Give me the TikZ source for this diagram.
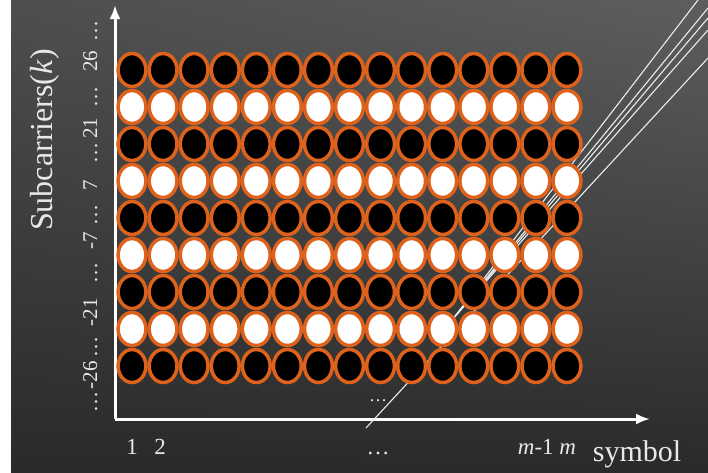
\documentclass[tikz,border=0pt]{standalone}
\usepackage{fontspec}
\setmainfont{Liberation Serif}
\usetikzlibrary{shapes.geometric, arrows.meta, shadings}
\definecolor{slidetopleft}{HTML}{4E4E4E}
\definecolor{slidetopright}{HTML}{5E5E5E}
\definecolor{slidebottom}{HTML}{2A2A2A}
\definecolor{ringorange}{RGB}{222,98,28}
\definecolor{labelgray}{HTML}{E8E8E8}

\begin{document}
\begin{tikzpicture}[x=1pt, y=-1pt]
    % Define styles
    \tikzstyle{ring} = [ellipse, draw=ringorange, line width=3.5pt, minimum width=27.8pt, minimum height=33pt, inner sep=0pt]
    \tikzstyle{darkring} = [ring, fill=black]
    \tikzstyle{lightring} = [ring, fill=white]
    \tikzstyle{axis} = [draw=white, line width=3pt, -{Latex[length=14pt, width=11pt]}]
    \tikzstyle{ray} = [draw=white!85!gray, line width=1.1pt]
    \tikzstyle{axislabel} = [text=labelgray, inner sep=0pt, anchor=base, font=\fontsize{23}{24}\selectfont]

    % Background
    \useasboundingbox (0,0) rectangle (708,472);
    \fill[white] (0,0) rectangle (708,472);
    \shade[upper left=slidetopleft, upper right=slidetopright, lower left=slidebottom, lower right=slidebottom] (11,0) rectangle (708,472);

    % Axes
    \coordinate (origin) at (115,419);
    \coordinate (xtip) at (650,419);
    \coordinate (ytip) at (115,5);
    \draw[axis] (origin) -- (xtip);
    \draw[axis] (origin) -- (ytip);

    % Rays
    \coordinate (raylow) at (366,428);
    \coordinate (rayhigh) at (708,58);
    \draw[ray] (raylow) -- (rayhigh);
    \coordinate (fan) at (452,320);
    \foreach \i/\x/\y in {1/698/0, 2/708/8, 3/708/18, 4/708/30} {
        \coordinate (fan\i) at (\x,\y);
        \draw[ray] (fan) -- (fan\i);
    }

    % Subcarrier grid
    \foreach \r in {1,...,9} {
        \foreach \c in {1,...,15} {
            \pgfmathsetmacro{\cx}{132+31.07*(\c-1)}
            \pgfmathsetmacro{\cy}{70+37*(\r-1)}
            \ifodd\r
                \node[darkring] (s\r-\c) at (\cx,\cy) {};
            \else
                \node[lightring] (s\r-\c) at (\cx,\cy) {};
            \fi
        }
    }

    % Labels
    \node[axislabel, font=\fontsize{18}{20}\selectfont] (griddots) at (378,401) {\dots};
    \node[axislabel] (one) at (132,454) {1};
    \node[axislabel] (two) at (160,454) {2};
    \node[axislabel] (xdots) at (378,454) {\dots};
    \node[axislabel] (mlabel) at (547,454) {\textit{m}-1 \textit{m}};
    \node[axislabel, font=\fontsize{30}{32}\selectfont] (xname) at (637,461) {symbol};
    \foreach \i/\y/\t in {1/402/\dots, 2/375/-26, 3/347/\dots, 4/312/-21, 5/273/\dots, 6/241/-7, 7/215/\dots,
                          8/185/7, 9/153/\dots, 10/128/21, 11/97/\dots, 12/61/26, 13/31/\dots}
        \node[axislabel, font=\fontsize{21}{22}\selectfont, rotate=90] (tick\i) at (97,\y) {\t};
    \node[axislabel, anchor=center, rotate=90, font=\fontsize{32}{34}\selectfont] (yname) at (45,140) {Subcarriers(\textit{k})};
\end{tikzpicture}
\end{document}
